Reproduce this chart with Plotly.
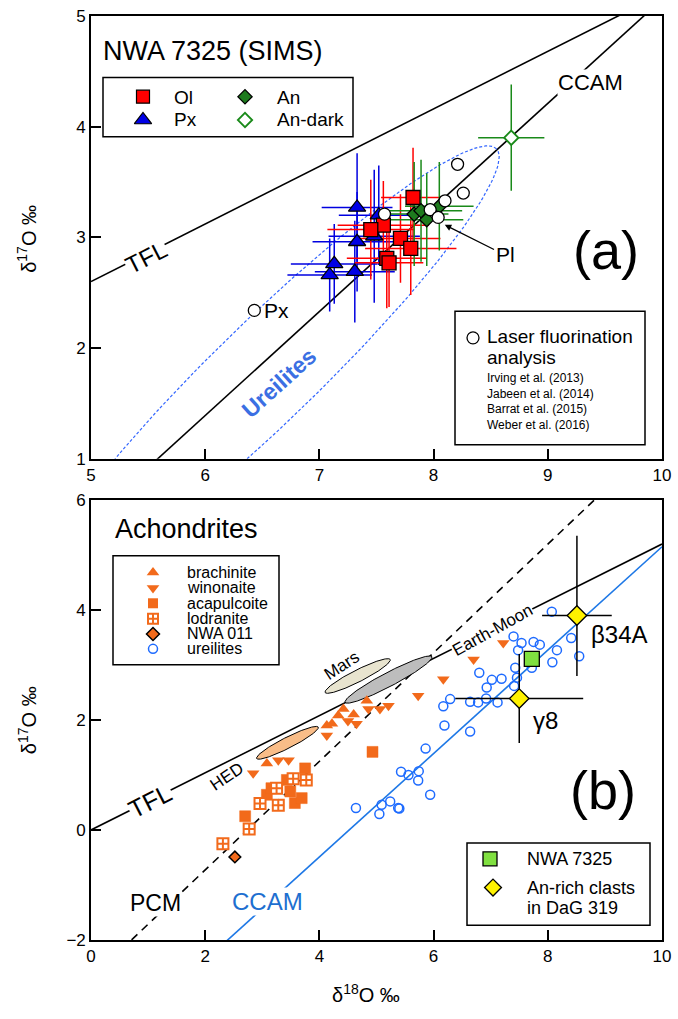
import numpy as np
import plotly.graph_objects as go

FONT = "Liberation Sans, Arial, sans-serif"

# ---------------- Panel (a): NWA 7325 (SIMS) ----------------
ol_d18 = [7.82, 7.56, 7.45, 7.71, 7.80, 7.59, 7.61]
ol_d17 = [3.36, 3.11, 3.07, 2.99, 2.90, 2.81, 2.77]
ol_e18 = [0.28, 0.40, 0.38, 0.35, 0.40, 0.35, 0.30]
ol_e17 = [0.45, 0.40, 0.45, 0.40, 0.42, 0.45, 0.40]

px_d18 = [7.33, 7.52, 7.33, 7.48, 7.13, 7.09, 7.31]
px_d17 = [3.27, 3.20, 2.96, 3.01, 2.76, 2.66, 2.69]
px_e18 = [0.31, 0.35, 0.39, 0.40, 0.38, 0.37, 0.35]
px_e17 = [0.49, 0.45, 0.45, 0.60, 0.36, 0.33, 0.46]

an_d18 = [7.83, 7.89, 7.94, 8.05]
an_d17 = [3.21, 3.24, 3.16, 3.28]
an_e18 = [0.30, 0.36, 0.32, 0.30]
an_e17 = [0.47, 0.46, 0.42, 0.40]

andark_d18 = [8.68]
andark_d17 = [3.90]
andark_e18 = [0.29]
andark_e17 = [0.48]

lf_d18 = [7.57, 7.97, 8.10, 8.04, 8.21, 8.26, 6.43]
lf_d17 = [3.21, 3.25, 3.33, 3.18, 3.66, 3.40, 2.34]

lf_refs = ["Irving et al. (2013)", "Jabeen et al. (2014)",
           "Barrat et al. (2015)", "Weber et al. (2016)"]

# Ureilite field in (a): major-axis end points and half width (px)
ure_field_a = dict(p1=(4.55, -0.20), p2=(8.55, 3.80), half_w=51)

# ---------------- Panel (b): Achondrites ----------------
brach_d18 = [4.13, 4.33, 4.42, 4.83, 4.22, 3.08, 4.60]
brach_d17 = [1.90, 2.08, 2.20, 2.35, 1.93, 1.21, 2.10]

wino_d18 = [2.84, 3.28, 3.46, 4.13, 4.65, 4.86, 5.06, 5.21, 5.73, 6.17, 6.70, 7.22, 4.50]
wino_d17 = [1.03, 1.27, 1.27, 1.72, 1.93, 2.20, 2.20, 2.26, 2.44, 2.74, 3.10, 3.40, 1.98]

acap_d18 = [2.70, 3.08, 3.57, 3.69, 3.75, 3.43, 3.16, 3.49, 4.93]
acap_d17 = [0.25, 0.64, 0.49, 0.58, 1.12, 0.91, 0.76, 0.70, 1.42]

lodr_d18 = [2.31, 2.77, 2.96, 3.28, 3.25, 3.54, 3.77]
lodr_d17 = [-0.25, 0.02, 0.48, 0.45, 0.76, 0.93, 0.91]

nwa011_d18 = [2.52]
nwa011_d17 = [-0.49]

ure_d18 = [8.07, 7.40, 7.54, 7.75, 7.86, 7.48, 8.16, 8.41, 8.55, 8.08, 7.72, 7.43,
           7.46, 7.41, 7.19, 7.02, 6.93, 6.80, 6.29, 6.17, 6.64, 6.78, 6.92, 7.12,
           6.19, 6.64, 5.86, 5.43, 5.56, 5.74, 5.73, 5.94, 5.24, 5.38, 4.64, 5.09,
           5.05, 5.40]
ure_d17 = [3.97, 3.52, 3.40, 3.42, 3.37, 3.27, 3.27, 3.49, 3.16, 3.05, 2.95, 2.95,
           2.77, 2.62, 2.75, 2.73, 2.59, 2.86, 2.38, 2.25, 2.33, 2.32, 2.39, 2.32,
           1.90, 1.79, 1.48, 1.06, 1.00, 1.07, 0.90, 0.64, 0.52, 0.40, 0.40, 0.46,
           0.29, 0.39]

nwa7325_d18 = [7.72]
nwa7325_d17 = [3.11]

clast_names = ["β34A", "γ8"]
clast_d18 = [8.51, 7.50]
clast_d17 = [3.90, 2.39]
clast_e18 = [0.61, 1.12]
clast_e17_up = [1.45, 0.81]
clast_e17_dn = [1.10, 0.81]

# planetary fields (major-axis end points, half width in px)
fields_b = {
    "HED": dict(p1=(2.90, 1.30), p2=(3.98, 1.87), half_w=5.5, fill="#F9BD88"),
    "Mars": dict(p1=(4.10, 2.50), p2=(5.24, 3.10), half_w=6.0, fill="#E8E4CF"),
    "Earth-Moon": dict(p1=(4.45, 2.32), p2=(5.97, 3.15), half_w=7.0, fill="#BDBDBD"),
}

# reference lines: slope, intercept
TFL = (0.52, 0.0)
CCAM = (0.94, -4.25)
PCM = (0.987, -2.70)

# ---------------- figure geometry ----------------
W, H = 678, 1019
L, R, T, B = 91, 16, 7, 79
PW, PH = W - L - R, H - T - B
A_TOP, A_BOT = 7, 454          # pixel rows of panel (a)
B_TOP, B_BOT = 495.7, 940      # pixel rows of panel (b)
dom_a = [(H - B - A_BOT) / PH, 1.0]
dom_b = [0.0, (H - B - B_TOP) / PH]
XR_A, YR_A = [5, 10], [1, 5]
XR_B, YR_B = [0, 10], [-2, 6]
sx_a = PW / (XR_A[1] - XR_A[0]); sy_a = (A_BOT - A_TOP) / (YR_A[1] - YR_A[0])
sx_b = PW / (XR_B[1] - XR_B[0]); sy_b = (B_BOT - B_TOP) / (YR_B[1] - YR_B[0])

ORANGE = "#F26A1B"
UBLUE = "#1E6BFF"

fig = go.Figure()


def ellipse(p1, p2, half_w, sx, sy, n=200):
    P1 = np.array([p1[0] * sx, p1[1] * sy]); P2 = np.array([p2[0] * sx, p2[1] * sy])
    c = (P1 + P2) / 2; u = (P2 - P1) / 2
    v = np.array([-u[1], u[0]]) / np.hypot(*u) * half_w
    t = np.linspace(0, 2 * np.pi, n)
    pts = c[:, None] + u[:, None] * np.cos(t) + v[:, None] * np.sin(t)
    return pts[0] / sx, pts[1] / sy


def line_trace(coef, xr, ax, color="black", dash="solid", width=1.6):
    xs = np.array(xr, dtype=float)
    fig.add_trace(go.Scatter(x=xs, y=coef[0] * xs + coef[1], mode="lines",
                             line=dict(color=color, width=width, dash=dash),
                             xaxis=ax[0], yaxis=ax[1], showlegend=False, hoverinfo="skip"))


def err_trace(x, y, ex, ey, color, ax, ey_minus=None):
    ey_d = dict(type="data", array=ey, color=color, thickness=1.5, width=0, visible=True)
    if ey_minus is not None:
        ey_d.update(symmetric=False, arrayminus=ey_minus)
    fig.add_trace(go.Scatter(x=x, y=y, mode="markers", marker=dict(size=1, color=color, opacity=0),
                             error_x=dict(type="data", array=ex, color=color, thickness=1.5, width=0, visible=True),
                             error_y=ey_d, xaxis=ax[0], yaxis=ax[1], showlegend=False, hoverinfo="skip"))


def pts(x, y, ax, **mk):
    fig.add_trace(go.Scatter(x=x, y=y, mode="markers", marker=mk, xaxis=ax[0], yaxis=ax[1],
                             showlegend=False, cliponaxis=False, hoverinfo="skip"))


AXA = ("x", "y"); AXB = ("x2", "y2"); AXP = ("x3", "y3")

# ---------- panel (a) ----------
line_trace(TFL, XR_A, AXA)
line_trace(CCAM, XR_A, AXA)
ex, ey = ellipse(ure_field_a["p1"], ure_field_a["p2"], ure_field_a["half_w"], sx_a, sy_a)
fig.add_trace(go.Scatter(x=ex, y=ey, mode="lines", line=dict(color="#3366FF", width=1.2, dash="3px,2px"),
                         xaxis="x", yaxis="y", showlegend=False, hoverinfo="skip"))
err_trace(px_d18, px_d17, px_e18, px_e17, "#0000E0", AXA)
err_trace(ol_d18, ol_d17, ol_e18, ol_e17, "#FF0000", AXA)
err_trace(an_d18, an_d17, an_e18, an_e17, "#1A8A1A", AXA)
err_trace(andark_d18, andark_d17, andark_e18, andark_e17, "#1A8A1A", AXA)
pts(px_d18, px_d17, AXA, symbol="triangle-up", size=15, color="#0000E6", line=dict(color="black", width=1.3))
pts(ol_d18, ol_d17, AXA, symbol="square", size=14, color="#FF0000", line=dict(color="black", width=1.3))
pts(an_d18, an_d17, AXA, symbol="diamond", size=11, color="#1E7B1E", line=dict(color="black", width=1.3))
pts(andark_d18, andark_d17, AXA, symbol="diamond", size=11, color="white", line=dict(color="#1A8A1A", width=1.8))
pts(lf_d18, lf_d17, AXA, symbol="circle", size=12, color="white", line=dict(color="black", width=1.3))

# ---------- panel (b) ----------
line_trace(TFL, XR_B, AXB)
line_trace(PCM, XR_B, AXB, dash="8px,6px")
line_trace(CCAM, XR_B, AXB, color="#1E78E6")
for name, f in fields_b.items():
    ex, ey = ellipse(f["p1"], f["p2"], f["half_w"], sx_b, sy_b)
    fig.add_trace(go.Scatter(x=ex, y=ey, mode="lines", fill="toself", fillcolor=f["fill"],
                             line=dict(color="black", width=1), xaxis="x2", yaxis="y2",
                             showlegend=False, hoverinfo="skip"))
pts(ure_d18, ure_d17, AXB, symbol="circle-open", size=9, color=UBLUE, line=dict(color=UBLUE, width=1.5))
pts(acap_d18, acap_d17, AXB, symbol="square", size=11, color=ORANGE, line=dict(color=ORANGE, width=0.5))
pts(lodr_d18, lodr_d17, AXB, symbol="square-cross", size=11, color="white", line=dict(color=ORANGE, width=2))
pts(brach_d18, brach_d17, AXB, symbol="triangle-up", size=11, color=ORANGE, line=dict(width=0))
pts(wino_d18, wino_d17, AXB, symbol="triangle-down", size=11, color=ORANGE, line=dict(width=0))
pts(nwa011_d18, nwa011_d17, AXB, symbol="diamond", size=9, color=ORANGE, line=dict(color="black", width=1.5))
err_trace(clast_d18, clast_d17, clast_e18, clast_e17_up, "black", AXB, ey_minus=clast_e17_dn)
pts(nwa7325_d18, nwa7325_d17, AXB, symbol="square", size=15, color="#80E040", line=dict(color="black", width=1.3))
pts(clast_d18, clast_d17, AXB, symbol="diamond", size=15, color="#FFF200", line=dict(color="black", width=1.3))

# ---------- legends / labels (pixel overlay axes) ----------
def pmark(x, y, **mk):
    pts([x], [y], AXP, **mk)


def ptext(x, y, text, size, color="black", xanchor="left", angle=0, bg=None, yanchor="middle"):
    fig.add_annotation(x=x, y=y, xref="x3", yref="y3", text=text, showarrow=False,
                       xanchor=xanchor, yanchor=yanchor, textangle=angle, align="left",
                       font=dict(family=FONT, size=size, color=color),
                       bgcolor=bg, borderpad=0)


def ptext_paper(x, y, text, size, angle=0):
    fig.add_annotation(x=(x - L) / PW, y=(H - B - y) / PH, xref="paper", yref="paper", text=text,
                       showarrow=False, xanchor="center", yanchor="middle", textangle=angle,
                       font=dict(family=FONT, size=size, color="black"))


def pbox(x0, y0, x1, y1):
    fig.add_shape(type="rect", xref="x3", yref="y3", x0=x0, y0=y0, x1=x1, y1=y1,
                  line=dict(color="black", width=1.5), layer="above")


# panel (a) title + legend
ptext(102, 42, "NWA 7325 (SIMS)", 27)
pbox(103, 69, 353, 129)
pmark(143, 88.5, symbol="square", size=13, color="#FF0000", line=dict(color="black", width=1.2))
pmark(143, 112, symbol="triangle-up", size=15, color="#0000E6", line=dict(color="black", width=1.2))
pmark(245, 88.5, symbol="diamond", size=11, color="#1E7B1E", line=dict(color="black", width=1.2))
pmark(245, 112, symbol="diamond", size=11, color="white", line=dict(color="#1A8A1A", width=1.8))
ptext(173, 89, "Ol", 19); ptext(173, 112, "Px", 19)
ptext(276, 89, "An", 19); ptext(276, 112, "An-dark", 19)

pbox(455, 305, 645, 440)
pmark(473, 332, symbol="circle", size=12, color="white", line=dict(color="black", width=1.3))
ptext(486, 331, "Laser fluorination", 19)
ptext(486, 352, "analysis", 19)
ptext(486, 364, "<br>".join(lf_refs), 12, yanchor="top")

ptext(146, 251, "TFL", 24, xanchor="center", angle=-27, bg="white")
ptext(590, 74, "CCAM", 22, xanchor="center", bg="white")
ptext(279, 378, "<b>Ureilites</b>", 23, color="#3B6FE3", xanchor="center", angle=-42)
ptext(263, 304, "Px", 21)
ptext(606, 243, "(a)", 54, xanchor="center")
fig.add_annotation(x=443, y=217, xref="x3", yref="y3", ax=62, ay=31, text="Pl",
                   showarrow=True, arrowhead=2, arrowsize=1, arrowwidth=1.3, arrowcolor="black",
                   font=dict(family=FONT, size=21, color="black"), standoff=2)

# panel (b) title + legends
ptext(114, 525, "Achondrites", 27)
pbox(113, 552, 279, 662)
leg_b_rows = [569, 584.5, 600, 615.5, 631, 646]
leg_b_labels = ["brachinite", "winonaite", "acapulcoite", "lodranite", "NWA 011", "ureilites"]
leg_b_marks = [dict(symbol="triangle-up", size=11, color=ORANGE, line=dict(width=0)),
               dict(symbol="triangle-down", size=11, color=ORANGE, line=dict(width=0)),
               dict(symbol="square", size=10, color=ORANGE, line=dict(width=0)),
               dict(symbol="square-cross", size=10, color="white", line=dict(color=ORANGE, width=2)),
               dict(symbol="diamond", size=10, color=ORANGE, line=dict(color="black", width=1.5)),
               dict(symbol="circle-open", size=9, color=UBLUE, line=dict(color=UBLUE, width=1.5))]
for yy, lab, mk in zip(leg_b_rows, leg_b_labels, leg_b_marks):
    pmark(153, yy, **mk)
    ptext(186, yy, lab, 16)

pbox(467, 842, 650, 925)
pmark(490, 858, symbol="square", size=14, color="#80E040", line=dict(color="black", width=1.3))
pmark(493, 887, symbol="diamond", size=13, color="#FFF200", line=dict(color="black", width=1.3))
ptext(526, 858, "NWA 7325", 18)
ptext(526, 887, "An-rich clasts", 18)
ptext(526, 908, "in DaG 319", 18)

ptext(150, 800, "TFL", 25, xanchor="center", angle=-27, bg="white")
ptext(227, 775, "HED", 17, xanchor="center", angle=-34)
ptext(342, 663, "Mars", 17, xanchor="center", angle=-33)
ptext(492, 627, "Earth-Moon", 17, xanchor="center", angle=-29, bg="white")
ptext(155, 903, "PCM", 23, xanchor="center", bg="white")
ptext(267, 901, "CCAM", 24, color="#1E6FD0", xanchor="center", bg="white")
ptext(590, 632, clast_names[0], 24)
ptext(532, 718, clast_names[1], 24)
ptext(603, 789, "(b)", 54, xanchor="center")

# axis titles (paper referenced, outside the plotting area)
ptext_paper(27, 232, "δ<sup>17</sup>O ‰", 20, angle=-90)
ptext_paper(27, 718, "δ<sup>17</sup>O ‰", 20, angle=-90)
ptext_paper(366, 994, "δ<sup>18</sup>O ‰", 20)

axis_style = dict(showline=True, linecolor="black", linewidth=1.6, mirror=True, ticks="inside",
                  ticklen=10, tickwidth=1.5, tickcolor="black", showgrid=False, zeroline=False,
                  ticklabeloverflow="allow",
                  tickfont=dict(family=FONT, size=17, color="black"))
fig.update_layout(
    width=W, height=H, margin=dict(l=L, r=R, t=T, b=B),
    paper_bgcolor="white", plot_bgcolor="rgba(0,0,0,0)", showlegend=False,
    font=dict(family=FONT, color="black"),
    xaxis=dict(domain=[0, 1], range=XR_A, anchor="y", dtick=1, **axis_style),
    yaxis=dict(domain=dom_a, range=YR_A, anchor="x", dtick=1, **axis_style),
    xaxis2=dict(domain=[0, 1], range=XR_B, anchor="y2", dtick=2, **axis_style),
    yaxis2=dict(domain=dom_b, range=YR_B, anchor="x2", dtick=2, **axis_style),
    xaxis3=dict(domain=[0, 1], range=[L, W - R], anchor="y3", visible=False, fixedrange=True),
    yaxis3=dict(domain=[0, 1], range=[H - B, T], anchor="x3", visible=False, fixedrange=True),
)
fig.write_html("out.html", config={"displayModeBar": False},
               post_script="document.body.style.margin='0px';document.body.style.overflow='hidden';")
